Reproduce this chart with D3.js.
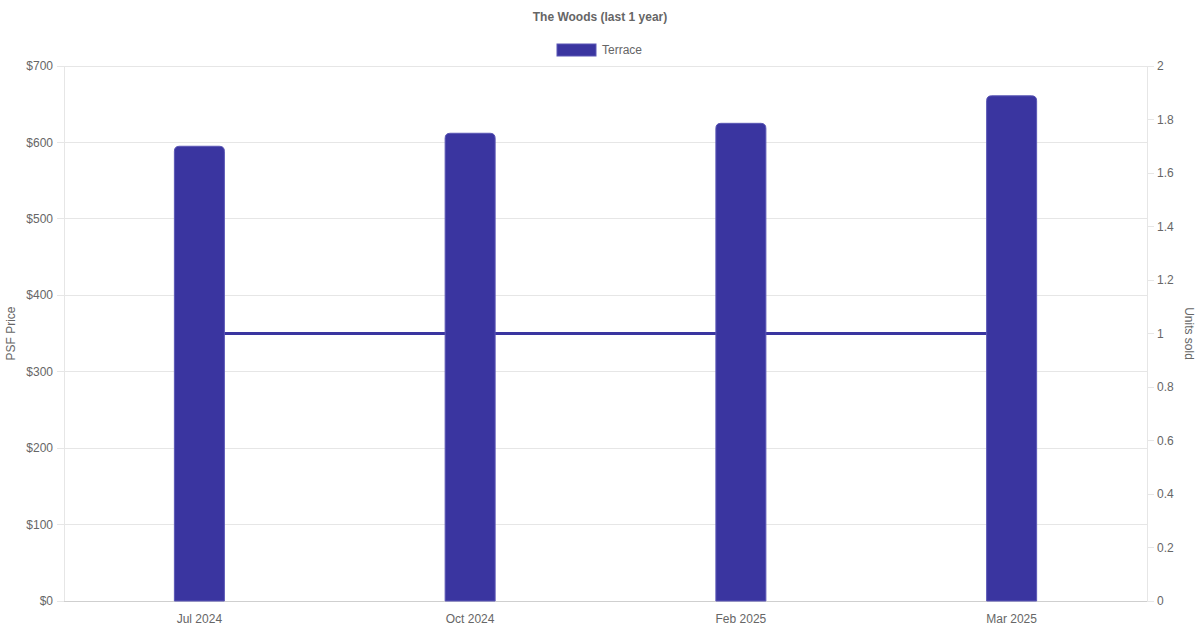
<!DOCTYPE html>
<html><head><meta charset="utf-8">
<script src="https://cdn.jsdelivr.net/npm/d3@7"></script>
<style>body{margin:0;background:#fff;font-family:"Liberation Sans",Arial,sans-serif;}</style>
</head><body><svg id="c" width="1200" height="630"></svg>
<script>
const categories = ["Jul 2024", "Oct 2024", "Feb 2025", "Mar 2025"];
const psfPrice = [595, 612, 625, 661];
const unitsSold = [1, 1, 1, 1];
const leftTicks = [0, 100, 200, 300, 400, 500, 600, 700];
const rightTicks = [0, 0.2, 0.4, 0.6, 0.8, 1, 1.2, 1.4, 1.6, 1.8, 2];
const seriesName = "Terrace";
const title = "The Woods (last 1 year)";

const color = "#3a35a0";
const textColor = "#666";
const gridColor = "#e6e6e6";
const svg = d3.select("#c");
const m = {l: 64, r: 1147, t: 66, b: 601};

const x = d3.scaleBand().domain(categories).range([m.l, m.r]);
const yL = d3.scaleLinear().domain([0, 700]).range([m.b, m.t]);
const yR = d3.scaleLinear().domain([0, 2]).range([m.b, m.t]);

// gridlines
svg.append("g").selectAll("line").data(leftTicks).join("line")
  .attr("x1", m.l - 7).attr("x2", m.r).attr("y1", d => yL(d)).attr("y2", d => yL(d))
  .attr("stroke", gridColor).attr("stroke-width", 1).attr("shape-rendering", "crispEdges");
// vertical borders
svg.append("line").attr("x1", m.l).attr("x2", m.l).attr("y1", m.t).attr("y2", m.b)
  .attr("stroke", gridColor).attr("shape-rendering", "crispEdges");
svg.append("line").attr("x1", m.r).attr("x2", m.r).attr("y1", m.t).attr("y2", m.b)
  .attr("stroke", gridColor).attr("shape-rendering", "crispEdges");
// right ticks
svg.append("g").selectAll("line").data(rightTicks).join("line")
  .attr("x1", m.r).attr("x2", m.r + 7).attr("y1", d => yR(d)).attr("y2", d => yR(d))
  .attr("stroke", gridColor).attr("shape-rendering", "crispEdges");
// bottom axis line
svg.append("line").attr("x1", m.l).attr("x2", m.r).attr("y1", m.b).attr("y2", m.b)
  .attr("stroke", "#cfcfcf").attr("shape-rendering", "crispEdges");

// left labels
svg.append("g").selectAll("text").data(leftTicks).join("text")
  .attr("x", m.l - 11).attr("y", d => yL(d)).attr("dy", "0.35em")
  .attr("text-anchor", "end").attr("font-size", 12).attr("fill", textColor)
  .text(d => "$" + d);
// right labels
svg.append("g").selectAll("text").data(rightTicks).join("text")
  .attr("x", m.r + 10).attr("y", d => yR(d)).attr("dy", "0.35em")
  .attr("text-anchor", "start").attr("font-size", 12).attr("fill", textColor)
  .text(d => d3.format("~g")(d));
// category labels
svg.append("g").selectAll("text").data(categories).join("text")
  .attr("x", d => x(d) + x.bandwidth() / 2).attr("y", 619).attr("dy", "0.35em")
  .attr("text-anchor", "middle").attr("font-size", 12).attr("fill", textColor)
  .text(d => d);

// axis titles
svg.append("text").attr("transform", `translate(15,${(m.t + m.b) / 2}) rotate(-90)`)
  .attr("text-anchor", "middle").attr("font-size", 12).attr("fill", textColor).text("PSF Price");
svg.append("text").attr("transform", `translate(1185,${(m.t + m.b) / 2}) rotate(90)`)
  .attr("text-anchor", "middle").attr("font-size", 12).attr("fill", textColor).text("Units sold");

// line (units)
const line = d3.line().x((d, i) => x(categories[i]) + x.bandwidth() / 2).y(d => yR(d));
svg.append("path").datum(unitsSold).attr("d", line)
  .attr("fill", "none").attr("stroke", color).attr("stroke-width", 3);

// bars
const bw = 50, r = 5;
function barPath(cx, top, bottom) {
  const x0 = cx - bw / 2, x1 = cx + bw / 2;
  return `M${x0},${bottom}L${x0},${top + r}Q${x0},${top} ${x0 + r},${top}L${x1 - r},${top}Q${x1},${top} ${x1},${top + r}L${x1},${bottom}Z`;
}
svg.append("g").selectAll("path").data(psfPrice).join("path")
  .attr("d", (d, i) => barPath(x(categories[i]) + x.bandwidth() / 2, yL(d), yL(0)))
  .attr("fill", color).attr("stroke", "#5b57b5").attr("stroke-width", 1);

// title
svg.append("text").attr("x", 600).attr("y", 17).attr("dy", "0.35em")
  .attr("text-anchor", "middle").attr("font-size", 12).attr("font-weight", "bold")
  .attr("fill", textColor).text(title);
// legend
svg.append("rect").attr("x", 557).attr("y", 44).attr("width", 39).attr("height", 12)
  .attr("fill", color).attr("stroke", "#5b57b5").attr("stroke-width", 1);
svg.append("text").attr("x", 602).attr("y", 50).attr("dy", "0.35em")
  .attr("font-size", 12).attr("fill", textColor).text(seriesName);
</script></body></html>
